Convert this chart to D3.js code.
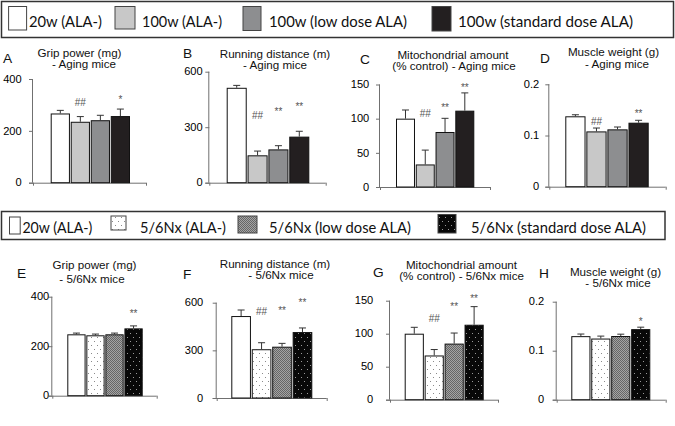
<!DOCTYPE html>
<html><head><meta charset="utf-8">
<script src="https://cdn.jsdelivr.net/npm/d3@7"></script>
<style>body{margin:0;background:#fff}svg{display:block}</style>
</head><body><svg id="c" width="675" height="426"></svg>
<script>
// ---------------- DATA ----------------
const categoriesAging = ["20w (ALA-)", "100w (ALA-)", "100w (low dose ALA)", "100w (standard dose ALA)"];
const categoriesNx = ["20w (ALA-)", "5/6Nx (ALA-)", "5/6Nx (low dose ALA)", "5/6Nx (standard dose ALA)"];

const panelLetters = ["A", "B", "C", "D", "E", "F", "G", "H"];
const titleLine1 = ["Grip power (mg)", "Running distance (m)", "Mitochondrial amount", "Muscle weight (g)",
                    "Grip power (mg)", "Running distance (m)", "Mitochondrial amount", "Muscle weight (g)"];
const titleLine2 = ["- Aging mice", "- Aging mice", "(% control) - Aging mice", "- Aging mice",
                    "- 5/6Nx mice", "- 5/6Nx mice", "(% control) - 5/6Nx mice", "- 5/6Nx mice"];

const gripAging = [267, 235, 241, 257];
const gripAgingErr = [12, 20, 19, 27];
const runAging = [513, 148, 180, 249];
const runAgingErr = [13, 23, 20, 29];
const mitoAging = [100, 33, 80.5, 111.7];
const mitoAgingErr = [12.7, 21, 20, 26];
const muscleAging = [0.1375, 0.108, 0.112, 0.125];
const muscleAgingErr = [0.003, 0.0066, 0.0046, 0.0047];

const gripNx = [248, 244, 248, 272];
const gripNxErr = [5, 5, 5, 10];
const runNx = [516, 307, 323, 415];
const runNxErr = [38, 41, 21, 26];
const mitoNx = [100, 67, 85, 113.6];
const mitoNxErr = [9.7, 9, 16, 27.4];
const muscleNx = [0.1297, 0.1248, 0.130, 0.144];
const muscleNxErr = [0.0043, 0.005, 0.0037, 0.004];

const ticksGrip = [0, 200, 400];
const ticksRun = [0, 300, 600];
const ticksMito = [0, 50, 100, 150];
const ticksMuscle = [0, 0.1, 0.2];
const tickLabelsGrip = ["0", "200", "400"];
const tickLabelsRun = ["0", "300", "600"];
const tickLabelsMito = ["0", "50", "100", "150"];
const tickLabelsMuscle = ["0", "0.1", "0.2"];

// significance marks and the value level (data units) where each sits
const sigA = ["", "##", "", "*"];      const sigLevelA = [0, 308, 0, 330];
const sigB = ["", "##", "**", "**"];   const sigLevelB = [0, 366, 398, 425];
const sigC = ["", "##", "**", "**"];   const sigLevelC = [0, 108, 120, 149];
const sigD = ["", "##", "", "**"];     const sigLevelD = [0, 0.128, 0, 0.148];
const sigE = ["", "", "", "**"];       const sigLevelE = [0, 0, 0, 342];
const sigF = ["", "##", "**", "**"];   const sigLevelF = [0, 543, 568, 616];
const sigG = ["", "##", "**", "**"];   const sigLevelG = [0, 123, 145, 157];
const sigH = ["", "", "", "*"];        const sigLevelH = [0, 0, 0, 0.166];

// ---------------- STYLE / LAYOUT ----------------
const fillsAging = ["#ffffff", "#c8c8c8", "#8d8e90", "#231f20"];
const fillsNx = ["#ffffff", "url(#dotsLight)", "url(#hatch)", "url(#dotsDark)"];

const svg = d3.select("#c");
const defs = svg.append("defs");
{
  const p1 = defs.append("pattern").attr("id", "dotsLight").attr("patternUnits", "userSpaceOnUse")
    .attr("width", 6).attr("height", 8);
  p1.append("rect").attr("width", 6).attr("height", 8).attr("fill", "#fff");
  p1.append("rect").attr("x", 1).attr("y", 1).attr("width", 1).attr("height", 1).attr("fill", "#8a8a8a");
  p1.append("rect").attr("x", 4).attr("y", 5).attr("width", 1).attr("height", 1).attr("fill", "#8a8a8a");
  const p2 = defs.append("pattern").attr("id", "hatch").attr("patternUnits", "userSpaceOnUse")
    .attr("width", 2).attr("height", 2);
  p2.append("rect").attr("width", 2).attr("height", 2).attr("fill", "#a4a4a4");
  p2.append("rect").attr("x", 0).attr("y", 0).attr("width", 1).attr("height", 1).attr("fill", "#666");
  p2.append("rect").attr("x", 1).attr("y", 1).attr("width", 1).attr("height", 1).attr("fill", "#666");
  const p3 = defs.append("pattern").attr("id", "dotsDark").attr("patternUnits", "userSpaceOnUse")
    .attr("width", 6).attr("height", 8);
  p3.append("rect").attr("width", 6).attr("height", 8).attr("fill", "#080808");
  p3.append("rect").attr("x", 1).attr("y", 1).attr("width", 1).attr("height", 1).attr("fill", "#9a9a9a");
  p3.append("rect").attr("x", 4).attr("y", 5).attr("width", 1).attr("height", 1).attr("fill", "#9a9a9a");
}

const panels = [
  {vals: gripAging, err: gripAgingErr, ticks: ticksGrip, tl: tickLabelsGrip, sig: sigA, sigLv: sigLevelA, cats: categoriesAging, fills: fillsAging,
   x0: 33, x1: 146, bl: 50.7, br: 130, y0: 182.7, yTop: 79, lr: 21.7, t1: [79.5, 57.3], t2: [84, 68.3], L: [3, 63]},
  {vals: runAging, err: runAgingErr, ticks: ticksRun, tl: tickLabelsRun, sig: sigB, sigLv: sigLevelB, cats: categoriesAging, fills: fillsAging,
   x0: 209.3, x1: 325.7, bl: 226.7, br: 309.3, y0: 182.7, yTop: 71.7, lr: 202.7, t1: [275, 58], t2: [275, 69.3], L: [183, 58]},
  {vals: mitoAging, err: mitoAgingErr, ticks: ticksMito, tl: tickLabelsMito, sig: sigC, sigLv: sigLevelC, cats: categoriesAging, fills: fillsAging,
   x0: 380, x1: 490, bl: 396, br: 474.3, y0: 187, yTop: 84.5, lr: 369.3, t1: [453, 58.5], t2: [454, 70], L: [360, 64]},
  {vals: muscleAging, err: muscleAgingErr, ticks: ticksMuscle, tl: tickLabelsMuscle, sig: sigD, sigLv: sigLevelD, cats: categoriesAging, fills: fillsAging,
   x0: 549.3, x1: 665.7, bl: 565.3, br: 648.7, y0: 186.7, yTop: 84.3, lr: 539.3, t1: [613.5, 56.3], t2: [617, 67.6], L: [540, 62.7]},
  {vals: gripNx, err: gripNxErr, ticks: ticksGrip, tl: tickLabelsGrip, sig: sigE, sigLv: sigLevelE, cats: categoriesNx, fills: fillsNx,
   x0: 52.3, x1: 156.7, bl: 67.3, br: 142.7, y0: 395.7, yTop: 296.7, lr: 49.3, t1: [94.5, 269.3], t2: [92, 282.7], L: [17, 278]},
  {vals: runNx, err: runNxErr, ticks: ticksRun, tl: tickLabelsRun, sig: sigF, sigLv: sigLevelF, cats: categoriesNx, fills: fillsNx,
   x0: 216.7, x1: 326.7, bl: 231.3, br: 312.3, y0: 398, yTop: 302.7, lr: 203.3, t1: [275, 267.5], t2: [281, 279], L: [183, 279]},
  {vals: mitoNx, err: mitoNxErr, ticks: ticksMito, tl: tickLabelsMito, sig: sigG, sigLv: sigLevelG, cats: categoriesNx, fills: fillsNx,
   x0: 390, x1: 498, bl: 404.7, br: 483.7, y0: 399.7, yTop: 300.7, lr: 373.3, t1: [461.5, 268.8], t2: [461.6, 280.3], L: [373, 277]},
  {vals: muscleNx, err: muscleNxErr, ticks: ticksMuscle, tl: tickLabelsMuscle, sig: sigH, sigLv: sigLevelH, cats: categoriesNx, fills: fillsNx,
   x0: 556.7, x1: 665.7, bl: 571.3, br: 650.3, y0: 399.7, yTop: 301.7, lr: 544.3, t1: [615.5, 275.5], t2: [618, 287], L: [539, 278]}
];

const sansFont = "Arial, 'Liberation Sans', Arimo, Helvetica, sans-serif";
const axisColor = "#707070";
const titleSize = 11;

// horizontal stretch factor so that "Grip power (mg)" spans ~84px like the reference
const probe = svg.append("text").attr("font-family", sansFont).attr("font-size", titleSize).text("Grip power (mg)");
const probeW = probe.node().getComputedTextLength() || 84;
probe.remove();
const kx = 84 / probeW;

function stretch(sel) {
  sel.each(function () {
    const w = this.getComputedTextLength();
    if (w > 0) d3.select(this).attr("textLength", w * kx).attr("lengthAdjust", "spacingAndGlyphs");
  });
}

panels.forEach((p, i) => {
  const g = svg.append("g");
  const maxV = p.ticks[p.ticks.length - 1];
  const y = d3.scaleLinear().domain([0, maxV]).range([p.y0, p.yTop]);
  const x = d3.scaleBand().domain(p.cats).range([p.bl, p.br]).paddingInner(0.04).paddingOuter(0);

  // y axis
  const yAxis = d3.axisLeft(y).tickValues(p.ticks).tickSize(4).tickFormat("");
  const ya = g.append("g").attr("transform", `translate(${p.x0},0)`).call(yAxis);
  ya.select(".domain").attr("stroke", axisColor).attr("d", `M-0.5,${p.yTop}V${p.y0}`);
  ya.selectAll(".tick line").attr("stroke", axisColor);
  const tls = g.selectAll(".tl").data(p.ticks).join("text")
    .attr("x", p.lr).attr("y", d => y(d)).attr("dy", "0.36em")
    .attr("text-anchor", "end").attr("font-family", sansFont).attr("font-size", 10.5).attr("fill", "#000")
    .text((d, k) => p.tl[k]);
  stretch(tls);

  // x axis
  const xs = d3.scaleLinear().domain([0, 1]).range([p.x0, p.x1]);
  const xAxis = d3.axisBottom(xs).tickValues([0, 1]).tickSize(3).tickFormat("").tickSizeOuter(0);
  const xa = g.append("g").attr("transform", `translate(0,${p.y0})`).call(xAxis);
  xa.select(".domain").attr("stroke", axisColor).attr("d", `M${p.x0 - 4},0.5H${p.x1}`);
  xa.selectAll(".tick line").attr("stroke", axisColor);

  // bars
  g.selectAll(".bar").data(p.vals).join("rect")
    .attr("x", (d, k) => x(p.cats[k]) + 0.5)
    .attr("y", d => y(d) + 0.5)
    .attr("width", x.bandwidth() - 1)
    .attr("height", d => p.y0 - y(d) - 0.5)
    .attr("fill", (d, k) => p.fills[k])
    .attr("stroke", "#111").attr("stroke-width", 1);

  // error bars
  const cap = 3.5;
  g.selectAll(".eb").data(p.vals).join("path")
    .attr("d", (d, k) => {
      const cx = x(p.cats[k]) + x.bandwidth() / 2;
      const yt = y(d + p.err[k]);
      return `M${cx},${y(d)}V${yt}M${cx - cap},${yt}H${cx + cap}`;
    })
    .attr("stroke", "#333").attr("stroke-width", 1).attr("fill", "none");

  // significance marks
  g.selectAll(".sig").data(p.sig).join("text")
    .attr("x", (d, k) => x(p.cats[k]) + x.bandwidth() / 2)
    .attr("y", (d, k) => y(p.sigLv[k]))
    .attr("dy", d => d.startsWith("*") ? "0.62em" : "0.36em")
    .attr("text-anchor", "middle").attr("font-family", sansFont).attr("font-size", 10).attr("fill", "#555")
    .text(d => d);

  // titles
  const t1 = g.append("text").attr("x", p.t1[0]).attr("y", p.t1[1]).attr("text-anchor", "middle")
    .attr("font-family", sansFont).attr("font-size", titleSize).attr("fill", "#111").text(titleLine1[i]);
  const t2 = g.append("text").attr("x", p.t2[0]).attr("y", p.t2[1]).attr("text-anchor", "middle")
    .attr("font-family", sansFont).attr("font-size", titleSize).attr("fill", "#111").text(titleLine2[i]);
  stretch(t1); stretch(t2);
  const lt = g.append("text").attr("x", p.L[0]).attr("y", p.L[1])
    .attr("font-family", sansFont).attr("font-size", 13).attr("fill", "#111").text(panelLetters[i]);
  stretch(lt);
});

// ---------------- LEGENDS ----------------
const legends = [
  {cats: categoriesAging, fills: fillsAging, box: [1.5, 1.5, 672, 36], fs: 16, base: 26.7,
   sw: [[8.6, 6.5, 18, 23.5], [115, 6.5, 20, 22.5], [243, 6.5, 18, 24], [432, 6.5, 19, 24.5]],
   tx: [[29, 73], [142, 80], [269, 138], [458, 175]]},
  {cats: categoriesNx, fills: fillsNx, box: [1.5, 211.5, 663.5, 28], fs: 15, base: 233,
   sw: [[9.5, 217, 10.7, 17], [111, 216, 15, 14], [238, 216, 19, 17], [438, 214.5, 18, 18.5]],
   tx: [[22.4, 70], [140, 86], [269, 142], [471, 175]]}
];
legends.forEach(L => {
  const g = svg.append("g");
  g.append("rect").attr("x", L.box[0]).attr("y", L.box[1]).attr("width", L.box[2]).attr("height", L.box[3])
    .attr("fill", "none").attr("stroke", "#333").attr("stroke-width", 1.5);
  g.selectAll(".sw").data(L.cats).join("rect")
    .attr("x", (d, k) => L.sw[k][0]).attr("y", (d, k) => L.sw[k][1])
    .attr("width", (d, k) => L.sw[k][2]).attr("height", (d, k) => L.sw[k][3])
    .attr("fill", (d, k) => L.fills[k]).attr("stroke", "#444").attr("stroke-width", 1);
  g.selectAll(".lt").data(L.cats).join("text")
    .attr("x", (d, k) => L.tx[k][0]).attr("y", L.base)
    .attr("textLength", (d, k) => L.tx[k][1]).attr("lengthAdjust", "spacingAndGlyphs")
    .attr("font-family", "Lato, 'Open Sans', sans-serif").attr("font-size", L.fs).attr("fill", "#111")
    .text(d => d);
});
</script></body></html>
